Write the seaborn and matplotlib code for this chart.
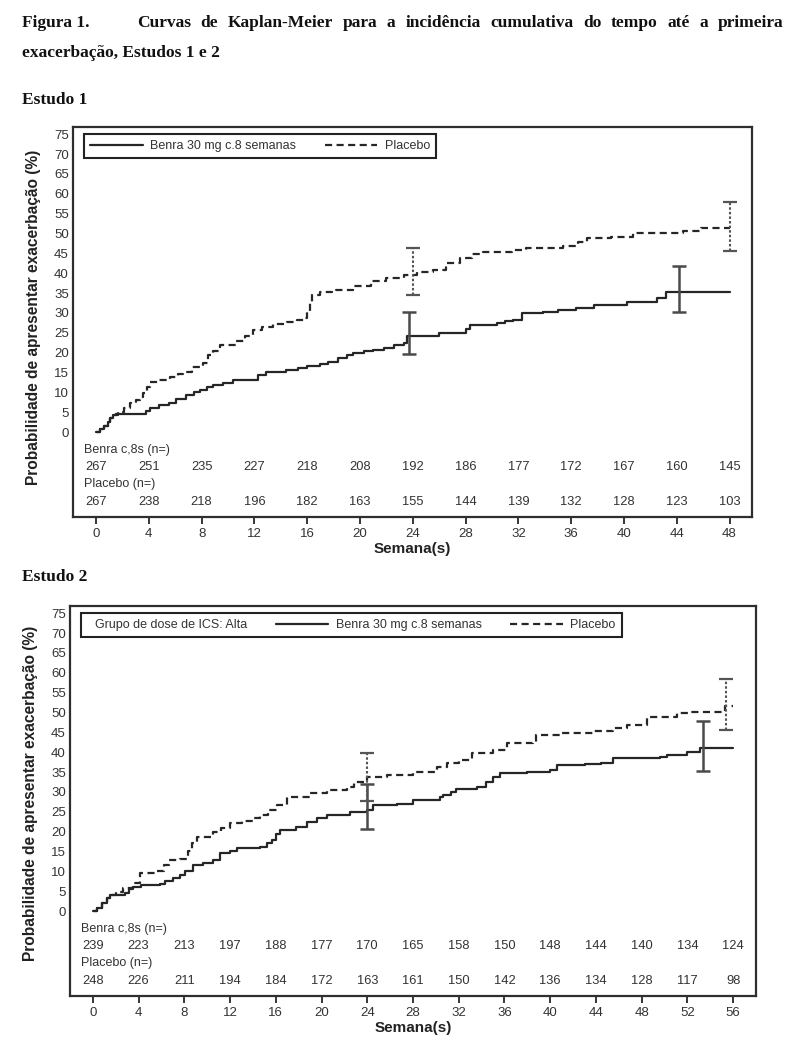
import matplotlib
matplotlib.use("Agg")
import numpy as np
import pandas as pd
import matplotlib.pyplot as plt
import matplotlib.transforms as mtransforms
from matplotlib.lines import Line2D
import seaborn as sns

# ---------------- data ----------------
title_lead = "Figura 1."
title_line1 = "Curvas de Kaplan-Meier para a incidência cumulativa do tempo até a primeira"
title_line2 = "exacerbação, Estudos 1 e 2"
study1_title = "Estudo 1"
study2_title = "Estudo 2"
ylabel = "Probabilidade de apresentar exacerbação (%)"
xlabel = "Semana(s)"
benra_label = "Benra 30 mg c.8 semanas"
placebo_label = "Placebo"
ics_label = "Grupo de dose de ICS: Alta"
benra_risk_label = "Benra c,8s (n=)"
placebo_risk_label = "Placebo (n=)"
yticks = [0, 5, 10, 15, 20, 25, 30, 35, 40, 45, 50, 55, 60, 65, 70, 75]

# Study 1 Kaplan-Meier curves (week, cumulative %)
s1_benra_w = [0, 0.3, 0.6, 0.9, 1.1, 1.3, 1.5, 3.8, 4.1, 4.8, 5.5, 6.1, 6.8, 7.4, 7.9, 8.4, 8.9,
              9.6, 10.4, 12.3, 12.9, 14.4, 15.3, 16.0, 17.0, 17.6, 18.3, 19.0, 19.5, 20.3, 21.0,
              21.8, 22.6, 23.3, 23.6, 26.0, 28.0, 28.3, 30.4, 31.0, 31.6, 32.3, 33.9, 35.0, 36.4,
              37.7, 40.2, 42.5, 43.2, 48.0]
s1_benra_v = [0, 0.8, 1.5, 2.6, 3.6, 4.3, 4.6, 5.3, 6.0, 6.8, 7.4, 8.3, 9.2, 10.0, 10.5, 11.3, 11.8,
              12.3, 13.1, 14.3, 15.2, 15.7, 16.0, 16.5, 17.0, 17.6, 18.6, 19.3, 19.9, 20.4, 20.7,
              21.2, 21.8, 22.4, 24.2, 25.0, 26.0, 27.0, 27.5, 28.0, 28.2, 29.9, 30.3, 30.6, 31.2,
              32.0, 32.8, 33.7, 35.3, 35.3]
s1_plac_w = [0, 0.3, 0.6, 0.9, 1.1, 1.4, 1.7, 2.1, 2.6, 3.0, 3.3, 3.6, 3.9, 4.1, 4.8, 5.6, 6.2, 6.6,
             7.3, 8.1, 8.5, 8.9, 9.4, 10.6, 11.3, 11.9, 12.6, 13.4, 14.5, 15.2, 15.8, 16.0, 16.2,
             16.4, 17.0, 18.2, 19.5, 20.8, 22.0, 23.3, 24.3, 25.5, 26.5, 27.6, 28.5, 29.3, 31.5,
             32.6, 35.4, 36.5, 37.2, 39.0, 40.5, 40.7, 44.5, 45.8, 48.0]
s1_plac_v = [0, 0.8, 1.5, 2.6, 3.6, 4.4, 5.0, 6.0, 7.2, 8.0, 8.9, 9.8, 11.3, 12.7, 13.2, 13.9, 14.5,
             15.2, 16.3, 17.3, 19.3, 20.5, 22.0, 22.8, 24.3, 25.7, 26.5, 27.2, 27.7, 28.2, 28.6,
             30.5, 32.5, 34.5, 35.2, 35.8, 36.8, 37.9, 38.7, 39.5, 40.2, 40.8, 42.5, 43.8, 44.7,
             45.4, 45.8, 46.3, 46.8, 47.8, 48.8, 49.0, 49.2, 50.1, 50.5, 51.4, 51.4]

# Study 1 confidence intervals
s1_benra_ci_w = [23.7, 44.2]
s1_benra_ci_mid = [24.2, 35.3]
s1_benra_ci_lo = [19.6, 30.3]
s1_benra_ci_hi = [30.2, 41.9]
s1_plac_ci_w = [24.0, 48.0]
s1_plac_ci_mid = [39.8, 51.4]
s1_plac_ci_lo = [34.5, 45.7]
s1_plac_ci_hi = [46.3, 58.0]

# Study 1 numbers at risk
s1_weeks = [0, 4, 8, 12, 16, 20, 24, 28, 32, 36, 40, 44, 48]
s1_benra_n = [267, 251, 235, 227, 218, 208, 192, 186, 177, 172, 167, 160, 145]
s1_plac_n = [267, 238, 218, 196, 182, 163, 155, 144, 139, 132, 128, 123, 103]

# Study 2 Kaplan-Meier curves
s2_benra_w = [0, 0.4, 0.8, 1.2, 1.5, 2.8, 3.2, 3.5, 4.2, 5.9, 6.3, 7.0, 7.6, 8.1, 8.8, 9.6, 10.5,
              11.1, 12.0, 12.6, 14.6, 15.2, 15.7, 16.0, 16.4, 17.8, 18.7, 19.6, 20.5, 22.5, 24.0,
              24.5, 26.6, 28.0, 30.4, 30.6, 31.3, 31.8, 33.6, 34.4, 35.0, 35.6, 38.0, 40.0, 40.6,
              43.0, 44.4, 45.5, 49.6, 50.2, 52.0, 53.1, 56.0]
s2_benra_v = [0, 0.8, 2.0, 3.2, 4.0, 4.6, 5.5, 6.1, 6.5, 6.8, 7.5, 8.3, 9.1, 10.2, 11.6, 12.2, 12.8,
              14.6, 15.2, 15.9, 16.2, 17.0, 17.9, 19.3, 20.4, 21.2, 22.5, 23.3, 24.2, 25.0, 25.4,
              26.7, 27.0, 28.0, 28.8, 29.2, 30.0, 30.8, 31.3, 32.5, 33.8, 34.7, 35.1, 35.5, 36.8,
              37.0, 37.3, 38.5, 38.9, 39.3, 40.1, 41.0, 41.0]
s2_plac_w = [0, 0.4, 0.8, 1.2, 1.5, 2.0, 2.6, 3.5, 4.1, 5.6, 6.2, 6.7, 7.6, 8.3, 8.7, 9.1, 10.5,
             11.2, 12.0, 13.0, 14.0, 14.6, 15.3, 16.1, 17.0, 19.0, 20.5, 22.2, 22.8, 24.0, 25.7,
             28.0, 30.1, 31.0, 32.0, 33.2, 35.0, 36.2, 38.5, 38.8, 41.0, 43.7, 45.5, 46.7, 48.5,
             51.1, 52.2, 55.3, 56.0]
s2_plac_v = [0, 0.8, 2.0, 3.2, 4.0, 4.8, 5.8, 7.0, 9.6, 10.0, 11.5, 12.8, 13.2, 15.0, 17.0, 18.7,
             20.0, 21.0, 22.1, 22.7, 23.4, 24.3, 25.5, 26.7, 28.8, 29.7, 30.5, 31.3, 32.5, 33.8,
             34.2, 35.1, 36.3, 37.3, 38.0, 39.8, 40.5, 42.3, 42.6, 44.3, 44.7, 45.2, 46.0, 46.9,
             48.9, 49.8, 50.2, 51.5, 51.6]

# Study 2 confidence intervals
s2_benra_ci_w = [24.0, 53.4]
s2_benra_ci_mid = [26.0, 41.0]
s2_benra_ci_lo = [20.7, 35.3]
s2_benra_ci_hi = [32.0, 47.9]
s2_plac_ci_w = [24.0, 55.4]
s2_plac_ci_mid = [33.8, 51.5]
s2_plac_ci_lo = [27.7, 45.6]
s2_plac_ci_hi = [39.8, 58.4]

# Study 2 numbers at risk
s2_weeks = [0, 4, 8, 12, 16, 20, 24, 28, 32, 36, 40, 44, 48, 52, 56]
s2_benra_n = [239, 223, 213, 197, 188, 177, 170, 165, 158, 150, 148, 144, 140, 134, 124]
s2_plac_n = [248, 226, 211, 194, 184, 172, 163, 161, 150, 142, 136, 134, 128, 117, 98]

# ---------------- style ----------------
sns.set_theme(style="white")
plt.rcParams["font.family"] = ["Liberation Sans", "DejaVu Sans"]
SERIF = ["Liberation Serif", "DejaVu Serif"]
LINE_C = "#262626"
TXT_C = "#333333"
DASH = (0, (3.2, 2.0))

W, H = 800, 1054
fig = plt.figure(figsize=(W / 100, H / 100), dpi=100)
fig.patch.set_facecolor("white")


class NoHandle:
    def legend_artist(self, legend, orig_handle, fontsize, handlebox):
        handlebox.width = 0
        a = Line2D([], [], linestyle="none")
        handlebox.add_artist(a)
        return a


def draw_panel(ax, bw, bv, pw, pv, bci, pci, weeks, bn, pn, xlim, ylab_y, ics=False):
    ax.set_facecolor("white")
    d_b = pd.DataFrame({"w": bw, "v": bv})
    d_p = pd.DataFrame({"w": pw, "v": pv})
    sns.lineplot(data=d_b, x="w", y="v", ax=ax, estimator=None, sort=False,
                 drawstyle="steps-post", color=LINE_C, linewidth=1.6)
    sns.lineplot(data=d_p, x="w", y="v", ax=ax, estimator=None, sort=False,
                 drawstyle="steps-post", color=LINE_C, linewidth=1.6, linestyle=DASH)

    # confidence interval bars
    cw, cm, lo, hi = bci
    ax.errorbar(cw, cm, yerr=[np.array(cm) - np.array(lo), np.array(hi) - np.array(cm)],
                fmt="none", ecolor="#4a4a4a", elinewidth=1.8, capsize=5, capthick=1.8)
    cw, cm, lo, hi = pci
    eb2 = ax.errorbar(cw, cm, yerr=[np.array(cm) - np.array(lo), np.array(hi) - np.array(cm)],
                      fmt="none", ecolor="#555555", elinewidth=1.5, capsize=5, capthick=1.6)
    eb2[2][0].set_linestyle((0, (1.2, 1.0)))

    ax.set_xlim(*xlim)
    ax.set_ylim(-21.4, 76.8)
    ax.set_xticks(weeks)
    ax.set_xticklabels([str(w) for w in weeks])
    ax.set_yticks(yticks)
    ax.set_yticklabels([str(t) for t in yticks])
    ax.tick_params(axis="x", direction="out", length=5, width=1.3, color=LINE_C,
                   labelsize=9.5, labelcolor=TXT_C, pad=3, bottom=True)
    ax.tick_params(axis="y", length=0, labelsize=9.5, labelcolor=TXT_C, pad=3, left=True)
    for s in ax.spines.values():
        s.set_visible(True)
        s.set_color("#2e2e2e")
        s.set_linewidth(1.6)
    ax.grid(False)

    ax.set_xlabel(xlabel, fontsize=11, fontweight="bold", color="#222222")
    ax.xaxis.set_label_coords(0.5, -0.064)
    ax.set_ylabel(ylabel, fontsize=11.2, fontweight="bold", color="#222222")
    ax.yaxis.set_label_coords(-0.047, ylab_y)

    # numbers at risk
    trans = mtransforms.blended_transform_factory(ax.transAxes, ax.transData)
    ax.text(0.016, -4.5, benra_risk_label, transform=trans, ha="left", va="center",
            fontsize=9, color=TXT_C)
    ax.text(0.016, -13.1, placebo_risk_label, transform=trans, ha="left", va="center",
            fontsize=9, color=TXT_C)
    for w, n1, n2 in zip(weeks, bn, pn):
        ax.text(w, -8.8, str(n1), ha="center", va="center", fontsize=9.3, color=TXT_C)
        ax.text(w, -17.6, str(n2), ha="center", va="center", fontsize=9.3, color=TXT_C)

    # legend
    h_b = Line2D([], [], color=LINE_C, linewidth=1.6)
    h_p = Line2D([], [], color=LINE_C, linewidth=1.6, linestyle=DASH)
    handles = [h_b, h_p]
    labels = [benra_label, placebo_label]
    hmap = {}
    if ics:
        h0 = Line2D([], [], linestyle="none")
        handles = [h0] + handles
        labels = [ics_label] + labels
        hmap = {h0: NoHandle()}
    leg = ax.legend(handles, labels, loc="upper left", bbox_to_anchor=(0.016, 0.983),
                    borderaxespad=0, ncol=len(handles), frameon=True, fancybox=False,
                    framealpha=1, edgecolor="#222222", fontsize=9, handlelength=4.2,
                    handletextpad=0.6, columnspacing=2.3, borderpad=0.5, handler_map=hmap)
    leg.get_frame().set_linewidth(1.5)
    for t in leg.get_texts():
        t.set_color(TXT_C)


ax1 = fig.add_axes([73 / W, 1 - 517 / H, 679 / W, 390 / H])
ax2 = fig.add_axes([70 / W, 1 - 996 / H, 686 / W, 390 / H])

draw_panel(ax1, s1_benra_w, s1_benra_v, s1_plac_w, s1_plac_v,
           (s1_benra_ci_w, s1_benra_ci_mid, s1_benra_ci_lo, s1_benra_ci_hi),
           (s1_plac_ci_w, s1_plac_ci_mid, s1_plac_ci_lo, s1_plac_ci_hi),
           s1_weeks, s1_benra_n, s1_plac_n, (-1.74, 49.7), 0.513)
draw_panel(ax2, s2_benra_w, s2_benra_v, s2_plac_w, s2_plac_v,
           (s2_benra_ci_w, s2_benra_ci_mid, s2_benra_ci_lo, s2_benra_ci_hi),
           (s2_plac_ci_w, s2_plac_ci_mid, s2_plac_ci_lo, s2_plac_ci_hi),
           s2_weeks, s2_benra_n, s2_plac_n, (-2.0, 58.0), 0.52, ics=True)

# ---------------- headings ----------------
TFS = 12.5
fig.text(22 / W, 1 - 23 / H, title_lead, family=SERIF, fontweight="bold", fontsize=TFS,
         ha="left", va="center", color="#111111")
renderer = fig.canvas.get_renderer()
words = title_line1.split()
wtexts = [fig.text(0, 1 - 23 / H, w, family=SERIF, fontweight="bold", fontsize=TFS,
                   ha="left", va="center", color="#111111") for w in words]
widths = [t.get_window_extent(renderer).width for t in wtexts]
x0, x1 = 137.0, 783.0
gap = (x1 - x0 - sum(widths)) / (len(words) - 1)
x = x0
for t, wd in zip(wtexts, widths):
    t.set_x(x / W)
    x += wd + gap
fig.text(22 / W, 1 - 53 / H, title_line2, family=SERIF, fontweight="bold", fontsize=TFS,
         ha="left", va="center", color="#111111")
fig.text(22 / W, 1 - 100 / H, study1_title, family=SERIF, fontweight="bold", fontsize=TFS,
         ha="left", va="center", color="#111111")
fig.text(22 / W, 1 - 577 / H, study2_title, family=SERIF, fontweight="bold", fontsize=TFS,
         ha="left", va="center", color="#111111")

fig.savefig("out.png", dpi=100, facecolor="white")
